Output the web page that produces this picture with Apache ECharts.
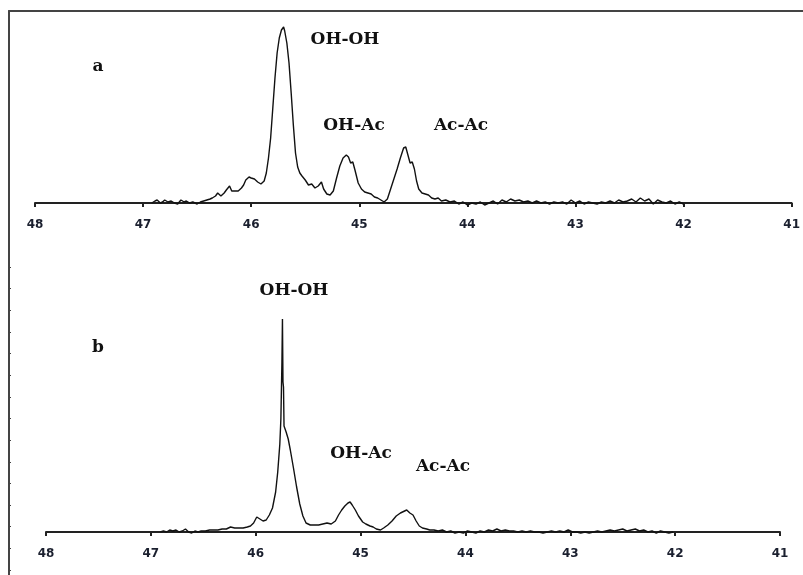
<!DOCTYPE html>
<html>
<head>
<meta charset="utf-8">
<title>NMR spectra a / b</title>
<script src="https://cdn.jsdelivr.net/npm/echarts@6/dist/echarts.min.js"></script>
<style>
  html, body { margin: 0; padding: 0; background: #fff; }
  #chart { width: 803px; height: 575px; }
</style>
</head>
<body>
<div id="chart"></div>
<script>
// x axis (ppm), shared by both spectra
const xTicks = [48, 47, 46, 45, 44, 43, 42, 41]

// spectrum a (intensity in arbitrary units)
const ppmA = [
  46.92, 46.89, 46.87, 46.84, 46.82, 46.80, 46.77, 46.74, 46.71, 46.68, 46.65, 46.62, 46.60, 46.57, 46.54, 46.50,
  46.47, 46.44, 46.41, 46.38, 46.36, 46.33, 46.31, 46.28, 46.25, 46.23, 46.20, 46.18, 46.15, 46.12, 46.09, 46.07,
  46.05, 46.02, 46.00, 45.97, 45.94, 45.91, 45.88, 45.86, 45.84, 45.82, 45.80, 45.78, 45.76, 45.74, 45.72, 45.70,
  45.69, 45.67, 45.65, 45.63, 45.61, 45.59, 45.57, 45.55, 45.53, 45.50, 45.47, 45.44, 45.41, 45.38, 45.35, 45.33,
  45.30, 45.27, 45.24, 45.21, 45.18, 45.15, 45.12, 45.10, 45.08, 45.06, 45.04, 45.01, 44.98, 44.95, 44.92, 44.89,
  44.86, 44.83, 44.80, 44.77, 44.74, 44.71, 44.68, 44.65, 44.62, 44.59, 44.57, 44.55, 44.53, 44.51, 44.49, 44.47,
  44.45, 44.42, 44.39, 44.36, 44.33, 44.30, 44.27, 44.24,
  44.20, 44.16, 44.12, 44.08, 44.04, 44.00, 43.96, 43.92, 43.88, 43.84, 43.80, 43.76, 43.72, 43.68, 43.64, 43.60,
  43.56, 43.52, 43.48, 43.44, 43.40, 43.36, 43.32, 43.28, 43.24, 43.20, 43.16, 43.12, 43.08, 43.04, 43.00, 42.96,
  42.92, 42.88, 42.84, 42.80, 42.76, 42.72, 42.68, 42.64, 42.60, 42.56, 42.52, 42.48, 42.44, 42.40, 42.36, 42.32,
  42.28, 42.24, 42.20, 42.16, 42.12, 42.08, 42.04, 42.00
]
const intA = [
  0, 2, 3, 0, 1, 3, 1, 2, 0, -1, 3, 1, 2, 0, 1, -1,
  1, 2, 3, 4, 5, 7, 10, 7, 10, 13, 17, 12, 12, 12, 15, 18,
  23, 26, 25, 24, 21, 19, 22, 30, 45, 65, 95, 125, 150, 165, 173, 176,
  172, 160, 140, 110, 78, 50, 36, 30, 27, 23, 18, 19, 15, 17, 21, 14,
  9, 8, 12, 25, 37, 45, 48, 46, 40, 41, 33, 20, 14, 11, 10, 9,
  6, 5, 3, 1, 4, 14, 24, 34, 45, 55, 56, 48, 40, 41, 34, 22,
  14, 10, 9, 8, 5, 4, 5, 2,
  3, 1, 2, -1, 1, -2, 0, -1, 1, -2, 0, 2, -1, 3, 1, 4,
  2, 3, 1, 2, 0, 2, 0, 1, -1, 1, 0, 1, -1, 3, 0, 2,
  -1, 1, 0, -1, 1, 0, 2, 0, 3, 1, 2, 4, 1, 5, 2, 4,
  -1, 3, 1, 0, 2, -1, 1, -1
]

// spectrum b
const ppmB = [
  46.91, 46.88, 46.85, 46.82, 46.79, 46.76, 46.73, 46.70, 46.67, 46.64, 46.61, 46.58, 46.55, 46.52, 46.48, 46.44,
  46.40, 46.36, 46.32, 46.28, 46.24, 46.20, 46.16, 46.12, 46.08, 46.05, 46.02, 45.99, 45.96, 45.93, 45.90, 45.87,
  45.84, 45.81, 45.79, 45.77, 45.76, 45.75, 45.745, 45.74, 45.735, 45.73, 45.71, 45.69, 45.67, 45.64, 45.61, 45.58,
  45.55, 45.52, 45.48, 45.44, 45.40, 45.36, 45.32, 45.28, 45.24, 45.21, 45.18, 45.15, 45.12, 45.10, 45.08, 45.05,
  45.02, 44.98, 44.95, 44.91, 44.88, 44.85, 44.81, 44.78, 44.74, 44.70, 44.66, 44.62, 44.58, 44.56, 44.53, 44.50,
  44.47, 44.44, 44.41, 44.37, 44.34,
  44.30, 44.26, 44.22, 44.18, 44.14, 44.10, 44.06, 44.02, 43.98, 43.94, 43.90, 43.86, 43.82, 43.78, 43.74, 43.70,
  43.66, 43.62, 43.58, 43.54, 43.50, 43.46, 43.42, 43.38, 43.34, 43.30, 43.26, 43.22, 43.18, 43.14, 43.10, 43.06,
  43.02, 42.98, 42.94, 42.90, 42.86, 42.82, 42.78, 42.74, 42.70, 42.66, 42.62, 42.58, 42.54, 42.50, 42.46, 42.42,
  42.38, 42.34, 42.30, 42.26, 42.22, 42.18, 42.14, 42.10, 42.06, 42.02
]
const intB = [
  0, 1, 0, 2, 1, 2, 0, 1, 3, 0, -1, 1, 0, 1, 1, 2,
  2, 2, 3, 3, 5, 4, 4, 4, 5, 6, 9, 15, 13, 11, 12, 17,
  24, 40, 60, 88, 113, 170, 213, 150, 145, 106, 100, 93, 82, 64, 45, 28,
  16, 9, 7, 7, 7, 8, 9, 8, 11, 17, 22, 26, 29, 30, 27, 22,
  16, 10, 8, 6, 5, 3, 2, 4, 7, 11, 16, 19, 21, 22, 19, 17,
  11, 6, 4, 3, 2,
  2, 1, 2, 0, 1, -1, 0, -1, 1, 0, -1, 1, 0, 2, 1, 3,
  1, 2, 1, 1, 0, 1, 0, 1, 0, 0, -1, 0, 1, 0, 1, 0,
  2, 0, 0, -1, 0, -1, 0, 1, 0, 1, 2, 1, 2, 3, 1, 2,
  3, 1, 2, 0, 1, -1, 1, 0, -1, 0
]

// peak labels: [text, x, y] in page pixels
const labelsA = [['a', 98, 67], ['OH-OH', 345, 40], ['OH-Ac', 354, 126], ['Ac-Ac', 461, 126]]
const labelsB = [['OH-OH', 294, 291], ['b', 98, 348], ['OH-Ac', 361, 454], ['Ac-Ac', 443, 467]]

const chart = echarts.init(document.getElementById('chart'))

const ppmAxis = (gridIndex) => ({
  type: 'value',
  gridIndex: gridIndex,
  min: xTicks[xTicks.length - 1],
  max: xTicks[0],
  interval: 1,
  inverse: true,
  axisLine: { onZero: true, lineStyle: { color: '#222', width: 2 } },
  axisTick: { show: true, length: 4, lineStyle: { color: '#222', width: 2 } },
  axisLabel: { margin: 12, color: '#1a1f2e', fontSize: 12, fontWeight: 'bold', fontFamily: 'DejaVu Sans' },
  splitLine: { show: false }
})

const hiddenAxis = (gridIndex) => ({
  type: 'value', gridIndex: gridIndex, show: false, min: 0, max: 1
})

const text = (l) => ({
  type: 'text',
  x: l[1],
  y: l[2],
  style: {
    text: l[0],
    fill: '#111',
    font: 'bold 17px "DejaVu Serif"',
    align: 'center',
    verticalAlign: 'middle'
  }
})

chart.setOption({
  backgroundColor: '#fff',
  animation: false,
  grid: [
    { left: 35, right: 8, top: 13, bottom: 368 },   // a
    { left: 46, right: 23, top: 302, bottom: 39 },  // b
    { left: 9, right: 0, top: 11, bottom: 0 },      // frame
    { left: 9, width: 1, top: 267, bottom: 5 }      // small ticks on left frame
  ],
  xAxis: [
    ppmAxis(0),
    ppmAxis(1),
    {
      type: 'value', gridIndex: 2, position: 'top', min: 0, max: 1,
      axisLine: { show: true, onZero: false, lineStyle: { color: '#444', width: 2 } },
      axisTick: { show: false }, axisLabel: { show: false }, splitLine: { show: false }
    },
    hiddenAxis(3)
  ],
  yAxis: [
    { type: 'value', gridIndex: 0, show: false, min: -4, max: 190 },
    { type: 'value', gridIndex: 1, show: false, min: -4, max: 230 },
    {
      type: 'value', gridIndex: 2, position: 'left', min: 0, max: 1,
      axisLine: { show: true, onZero: false, lineStyle: { color: '#444', width: 2 } },
      axisTick: { show: false }, axisLabel: { show: false }, splitLine: { show: false }
    },
    {
      type: 'value', gridIndex: 3, position: 'left', min: 0, max: 14, interval: 1,
      axisLine: { show: false },
      axisTick: { show: true, inside: true, length: 2, lineStyle: { color: '#444' } },
      axisLabel: { show: false }, splitLine: { show: false }
    }
  ],
  series: [
    {
      name: 'a',
      type: 'line',
      xAxisIndex: 0,
      yAxisIndex: 0,
      data: ppmA.map((x, i) => [x, intA[i]]),
      symbol: 'none',
      lineStyle: { color: '#111', width: 1.4 }
    },
    {
      name: 'b',
      type: 'line',
      xAxisIndex: 1,
      yAxisIndex: 1,
      data: ppmB.map((x, i) => [x, intB[i]]),
      symbol: 'none',
      lineStyle: { color: '#111', width: 1.4 }
    }
  ],
  graphic: labelsA.concat(labelsB).map(text)
})
</script>
</body>
</html>
